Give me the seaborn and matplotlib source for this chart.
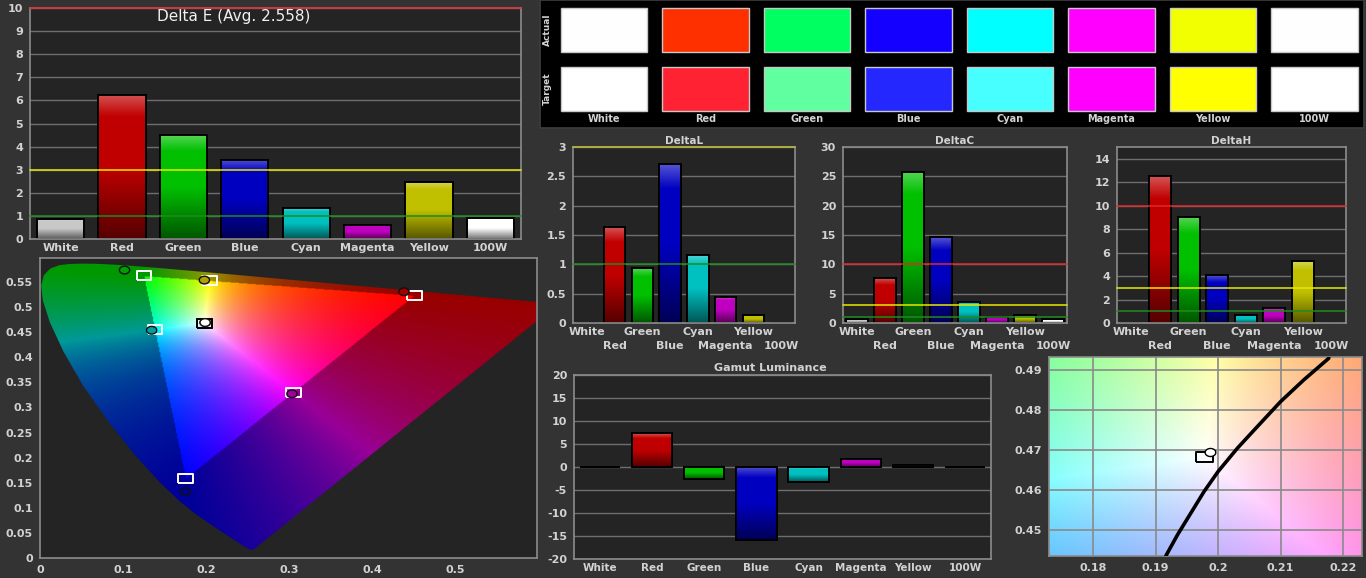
import numpy as np
import matplotlib
matplotlib.use("Agg")
import matplotlib.pyplot as plt
import matplotlib.colors as mcolors
from matplotlib.path import Path
from matplotlib.patches import PathPatch
import seaborn as sns

categories = ["White", "Red", "Green", "Blue", "Cyan", "Magenta", "Yellow", "100W"]
bar_colors = ["#c8c8c8", "#c00000", "#00c000", "#0000c0", "#00c0c0", "#c000c0", "#c0c000", "#ffffff"]

delta_e = [0.87, 6.25, 4.50, 3.43, 1.35, 0.62, 2.47, 0.93]
delta_e_avg = 2.558
delta_l = [0.0, 1.63, 0.93, 2.71, 1.16, 0.45, 0.13, 0.0]
delta_c = [0.68, 7.6, 25.75, 14.6, 3.63, 1.08, 1.42, 0.68]
delta_h = [0.0, 12.5, 9.03, 4.06, 0.68, 1.25, 5.28, 0.0]
gamut_lum = [0.0, 7.3, -2.68, -15.9, -3.2, 1.8, 0.35, 0.0]

thresholds = [10, 3, 1]
threshold_colors = ["#e02828", "#e8e800", "#1e8c1e"]

actual_hex = ["#fefefe", "#ff3000", "#00ff60", "#1400ff", "#00ffff", "#ff00ff", "#f2ff00", "#fefefe"]
target_hex = ["#ffffff", "#ff2232", "#60ffa0", "#2428ff", "#48ffff", "#ff00ff", "#ffff00", "#ffffff"]

# CIE 1976 u'v'
target_u = [0.1978, 0.4507, 0.1250, 0.1754, 0.1383, 0.3050, 0.2039, 0.1978]
target_v = [0.4683, 0.5229, 0.5625, 0.1579, 0.4555, 0.3298, 0.5529, 0.4683]
actual_u = [0.1987, 0.4380, 0.1017, 0.1750, 0.1343, 0.3032, 0.1978, 0.1987]
actual_v = [0.4694, 0.5307, 0.5740, 0.1327, 0.4540, 0.3273, 0.5540, 0.4694]
actual_dot = ["#ffffff", "#a00000", "#00a000", "#000090", "#00a0a0", "#a000a0", "#b0a000", "#ffffff"]
square_edge = ["black", "white", "white", "white", "white", "white", "white", "black"]

# spectral locus, CIE 1931 xy (380..700 nm)
locus_x = [0.1741, 0.1733, 0.1714, 0.1689, 0.1644, 0.1566, 0.1440, 0.1355, 0.1241, 0.1096,
           0.0913, 0.0687, 0.0454, 0.0235, 0.0082, 0.0039, 0.0139, 0.0389, 0.0743, 0.1142,
           0.1547, 0.1929, 0.2296, 0.2658, 0.3016, 0.3373, 0.3731, 0.4087, 0.4441, 0.4788,
           0.5125, 0.5448, 0.5752, 0.6029, 0.6270, 0.6658, 0.6915, 0.7079, 0.7190, 0.7260, 0.7347]
locus_y = [0.0050, 0.0048, 0.0051, 0.0069, 0.0109, 0.0177, 0.0297, 0.0399, 0.0578, 0.0868,
           0.1327, 0.2007, 0.2950, 0.4127, 0.5384, 0.6548, 0.7502, 0.8120, 0.8338, 0.8262,
           0.8059, 0.7816, 0.7543, 0.7243, 0.6923, 0.6589, 0.6245, 0.5896, 0.5547, 0.5202,
           0.4866, 0.4544, 0.4242, 0.3965, 0.3725, 0.3340, 0.3083, 0.2920, 0.2809, 0.2740, 0.2653]

# blackbody curve
planck_u = [0.19165, 0.19351, 0.19564, 0.19776, 0.2000, 0.2031, 0.2063, 0.2100, 0.2137, 0.2177]
planck_v = [0.44364, 0.44888, 0.45429, 0.45968, 0.46466, 0.4705, 0.4759, 0.4821, 0.4875, 0.4929]

W, H = 1366, 578
BG = "#333333"
PLOT_BG = "#242424"
SPINE = "#8c8c8c"
TXT = "#d2d2d2"

sns.set_theme(style="dark")
plt.rcParams["font.family"] = ["DejaVu Sans"]
plt.rcParams["font.weight"] = "bold"

fig = plt.figure(figsize=(W / 100, H / 100), dpi=100, facecolor=BG)


def px_axes(l, t, r, b):
    return fig.add_axes([l / W, 1 - b / H, (r - l) / W, (b - t) / H])


def style(ax, ylim, yticks, grid=True):
    ax.set_facecolor(PLOT_BG)
    for s in ax.spines.values():
        s.set_color(SPINE)
        s.set_linewidth(1.2)
    ax.set_ylim(ylim)
    ax.set_yticks(yticks)
    ax.set_yticklabels([f"{round(v, 4):g}" for v in yticks])
    if grid:
        ax.grid(axis="y", color="#6e6e6e", lw=1)
    ax.tick_params(colors=SPINE, labelcolor=TXT, labelsize=8, length=4, width=1, pad=1)
    ax.set_xlabel("")
    ax.set_ylabel("")


def shade_bars(ax):
    for patch in ax.patches:
        h = patch.get_height()
        base = np.array(mcolors.to_rgb(patch.get_facecolor()))
        patch.set_facecolor("none")
        patch.set_edgecolor("black")
        patch.set_linewidth(1.4)
        patch.set_zorder(2)
        if h == 0:
            continue
        top = base + (1 - base) * 0.32
        dark = base * 0.45
        t = np.linspace(0, 1, 80)[:, None]
        grad = np.where(t < 0.15, top + (base - top) * (t / 0.15),
                        np.where(t < 0.5, base, base + (dark - base) * ((t - 0.5) / 0.5)))
        x0, y0 = patch.get_xy()
        w = patch.get_width()
        im = ax.imshow(grad[:, None, :], extent=(x0, x0 + w, min(y0, y0 + h), max(y0, y0 + h)),
                       origin="upper", aspect="auto", zorder=1.5, interpolation="bilinear")
        im.set_clip_path(patch)


def bar_panel(ax, values, ylim, yticks, lines, stagger=False, xsize=8):
    sns.barplot(x=categories, y=values, hue=categories, palette=bar_colors, legend=False,
                saturation=1, width=0.77, ax=ax)
    shade_bars(ax)
    style(ax, ylim, yticks)
    ax.set_xlim(-0.5, len(categories) - 0.5)
    ax.set_xticks(range(len(categories)))
    ax.set_xticklabels(categories, fontsize=xsize)
    ax.set_xticks(np.arange(-0.5, len(categories), 1), minor=True)
    ax.tick_params(axis="x", which="major", length=0, pad=3)
    ax.tick_params(axis="x", which="minor", length=4, color=SPINE)
    if stagger:
        for i, tick in enumerate(ax.xaxis.get_major_ticks()):
            if i % 2:
                tick.set_pad(13)
    for val, col in lines:
        ax.axhline(val, color=col, lw=1.3, alpha=0.85, zorder=3, clip_on=False)


def uv_image(u0, u1, v0, v1, nu, nv, tri=None):
    uu, vv = np.meshgrid(np.linspace(u0, u1, nu), np.linspace(v0, v1, nv))
    d = 6 * uu - 16 * vv + 12
    x = 9 * uu / d
    y = np.maximum(4 * vv / d, 1e-4)
    xyz = np.stack([x / y, np.ones_like(x), (1 - x - y) / y], -1)
    m = np.array([[3.2406, -1.5372, -0.4986], [-0.9689, 1.8758, 0.0415], [0.0557, -0.2040, 1.0570]])
    rgb = np.clip(xyz @ m.T, 0, None)
    rgb = rgb / (rgb.max(-1, keepdims=True) + 1e-9)
    if tri is not None:
        inside = Path(tri).contains_points(np.c_[uu.ravel(), vv.ravel()]).reshape(uu.shape)
        rgb[~inside] *= 0.6
    return np.clip(rgb, 0, 1)


# ---------------- Delta E ----------------
ax = px_axes(30, 8, 521, 239)
bar_panel(ax, delta_e, (0, 10), range(0, 11),
          [(v, c) for v, c in zip(thresholds, threshold_colors)])
fig.text(234 / W, 1 - 17 / H, f"Delta E (Avg. {delta_e_avg:.3f})", color="#f0f0f0",
         fontsize=11, fontweight="normal", ha="center", va="center")

# ---------------- DeltaL / C / H ----------------
ax = px_axes(573, 147, 795, 323)
bar_panel(ax, delta_l, (0, 3), [0, 0.5, 1, 1.5, 2, 2.5, 3],
          [(3, "#b8b830"), (1, threshold_colors[2])], stagger=True)
fig.text(684 / W, 1 - 141 / H, "DeltaL", color=TXT, fontsize=7.5, ha="center", va="center")

ax = px_axes(843, 147, 1067, 323)
bar_panel(ax, delta_c, (0, 30), range(0, 31, 5),
          [(v, c) for v, c in zip(thresholds, threshold_colors)], stagger=True)
fig.text(955 / W, 1 - 141 / H, "DeltaC", color=TXT, fontsize=7.5, ha="center", va="center")

ax = px_axes(1117, 147, 1346, 323)
bar_panel(ax, delta_h, (0, 15), range(0, 15, 2),
          [(v, c) for v, c in zip(thresholds, threshold_colors)], stagger=True)
fig.text(1231 / W, 1 - 141 / H, "DeltaH", color=TXT, fontsize=7.5, ha="center", va="center")

# ---------------- Gamut Luminance ----------------
ax = px_axes(574, 375, 991, 559)
bar_panel(ax, gamut_lum, (-20, 20), range(-20, 21, 5), [], xsize=7.5)
fig.text(770 / W, 1 - 368 / H, "Gamut Luminance", color=TXT, fontsize=8, ha="center", va="center")

# ---------------- CIE u'v' chart ----------------
lx, ly = np.array(locus_x), np.array(locus_y)
den = -2 * lx + 12 * ly + 3
locus_uv = np.c_[4 * lx / den, 9 * ly / den]
locus_uv = np.vstack([locus_uv, locus_uv[:1]])
tri = np.array([[target_u[i], target_v[i]] for i in (1, 2, 3)])

ax = px_axes(40, 258, 537, 558)
style(ax, (0, 0.598), np.arange(0, 0.56, 0.05), grid=False)
ax.set_xlim(0, 0.598)
ax.set_xticks(np.arange(0, 0.51, 0.1))
ax.set_xticklabels([f"{round(v, 2):g}" for v in np.arange(0, 0.51, 0.1)])
img = uv_image(0, 0.63, 0, 0.6, 500, 480, tri)
im = ax.imshow(img, extent=(0, 0.63, 0, 0.6), origin="lower", aspect="auto",
               interpolation="bilinear", zorder=0.6)
clip = PathPatch(Path(locus_uv), facecolor="none", edgecolor="none")
ax.add_patch(clip)
im.set_clip_path(clip)
ax.set_xlim(0, 0.598)
ax.set_ylim(0, 0.598)

rect = [(-0.8, -0.5), (0.8, -0.5), (0.8, 0.5), (-0.8, 0.5), (-0.8, -0.5)]
ellipse = [(0.8 * np.cos(a), 0.6 * np.sin(a)) for a in np.linspace(0, 2 * np.pi, 25)]

sns.scatterplot(x=target_u, y=target_v, marker=rect, s=110, facecolor="none",
                edgecolor=square_edge, linewidth=1.4, ax=ax, zorder=4)
sns.scatterplot(x=actual_u, y=actual_v, marker=ellipse, s=55, facecolor=actual_dot,
                edgecolor="#101010", linewidth=1.0, ax=ax, zorder=5)
ax.set_xlabel("")
ax.set_ylabel("")

# ---------------- zoomed white point ----------------
ax = px_axes(1049, 357, 1362, 556)
style(ax, (0.4436, 0.4932), [0.45, 0.46, 0.47, 0.48, 0.49], grid=False)
ax.set_xlim(0.17297, 0.2230)
ax.set_xticks([0.18, 0.19, 0.2, 0.21, 0.22])
ax.set_xticklabels([f"{v:g}" for v in [0.18, 0.19, 0.2, 0.21, 0.22]])
img = uv_image(0.17297, 0.2230, 0.4436, 0.4932, 200, 200)
ax.imshow(img, extent=(0.17297, 0.2230, 0.4436, 0.4932), origin="lower", aspect="auto",
          interpolation="bilinear", zorder=0)
ax.grid(True, color="#8a8a8a", lw=1.2, zorder=0.5)
sns.lineplot(x=planck_u, y=planck_v, sort=False, color="black", lw=2.6, ax=ax, zorder=3)
sns.scatterplot(x=[target_u[0]], y=[target_v[0]], marker=rect, s=150, facecolor="none",
                edgecolor="black", linewidth=1.4, ax=ax, zorder=4)
sns.scatterplot(x=[actual_u[0]], y=[actual_v[0]], marker=ellipse, s=60, facecolor="white",
                edgecolor="black", linewidth=1.0, ax=ax, zorder=5)
ax.set_xlim(0.17297, 0.2230)
ax.set_ylim(0.4436, 0.4932)
ax.set_xlabel("")
ax.set_ylabel("")

# ---------------- swatches ----------------
ax = px_axes(540, 0, 1364, 128)
ax.set_facecolor("black")
for s in ax.spines.values():
    s.set_color("#3c3c3c")
xs = np.arange(len(categories))
ax.bar(xs, 0.76, bottom=-0.38, width=0.85, color=actual_hex, edgecolor="#c8c8c8", linewidth=1)
ax.bar(xs, 0.76, bottom=1 - 0.38, width=0.85, color=target_hex, edgecolor="#c8c8c8", linewidth=1)
for i, c in enumerate(categories):
    ax.text(i, 1.51, c, color=TXT, fontsize=7, ha="center", va="center")
ax.text(-0.555, 0, "Actual", color=TXT, fontsize=6.5, rotation=90, ha="center", va="center")
ax.text(-0.555, 1, "Target", color=TXT, fontsize=6.5, rotation=90, ha="center", va="center")
ax.set_xlim(-0.631, 7.488)
ax.set_ylim(1.661, -0.508)
ax.set_xticks([])
ax.set_yticks([])

fig.savefig("out.png", dpi=100, facecolor=BG)
